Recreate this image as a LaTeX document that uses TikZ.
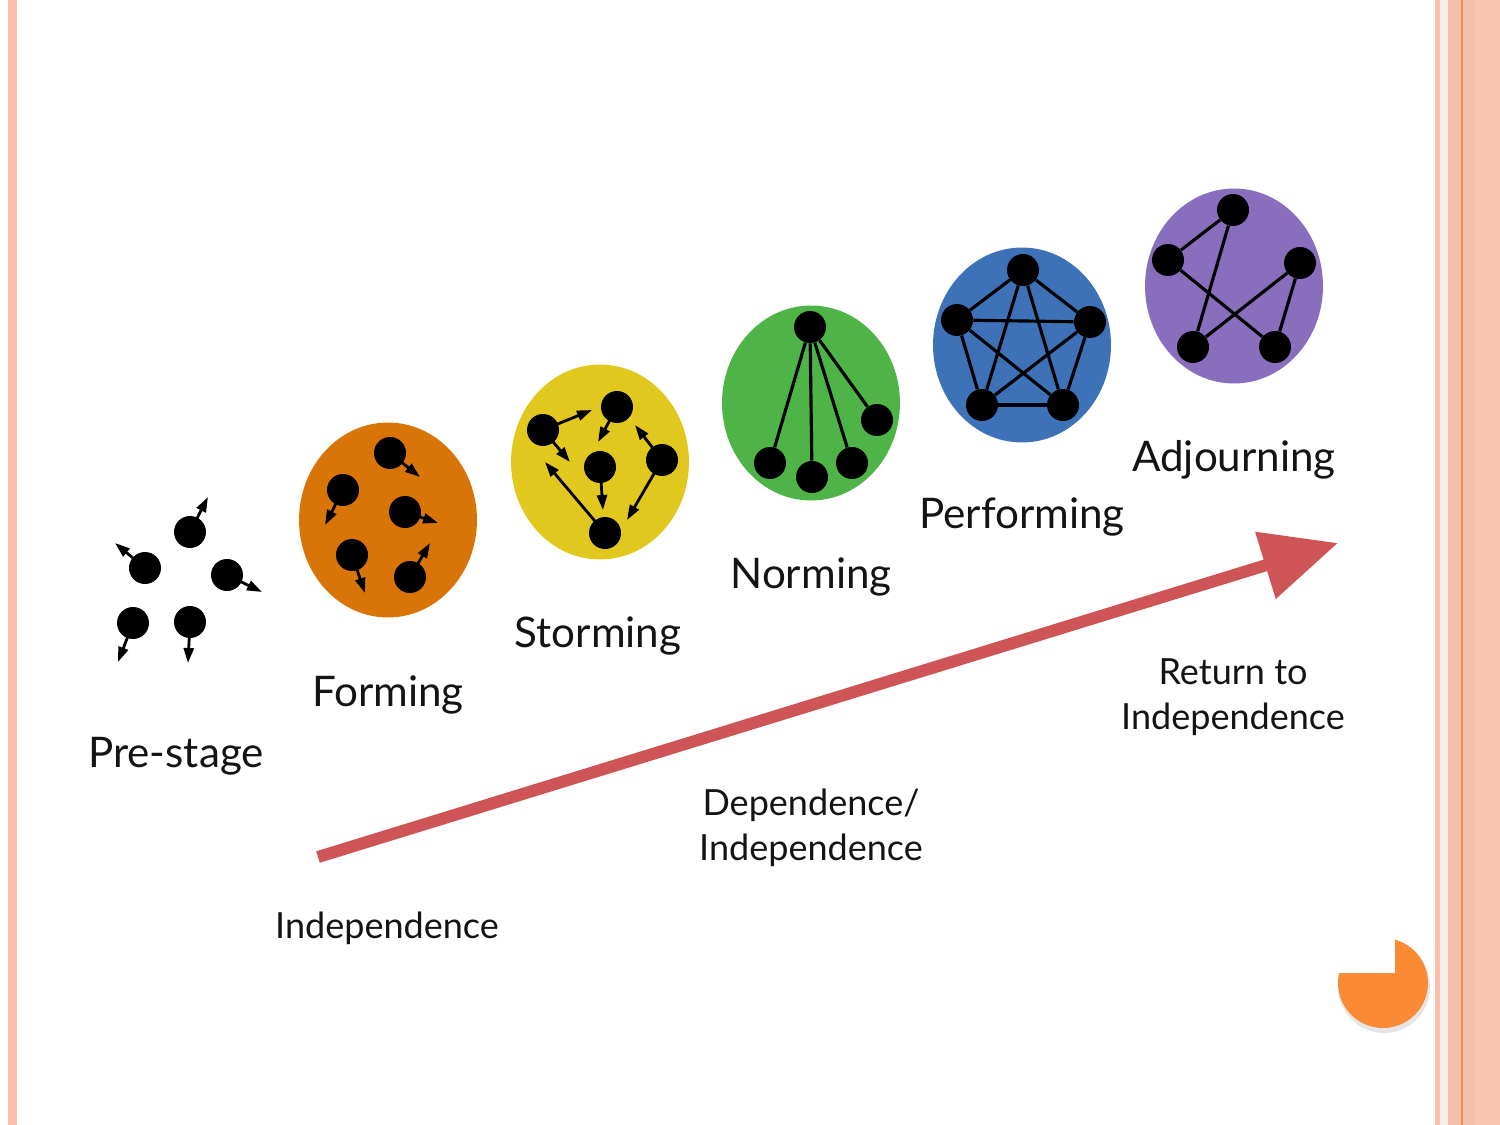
\documentclass[tikz,border=0pt]{standalone}
\usepackage{fontspec}
\setmainfont{Lato}
\usetikzlibrary{arrows.meta,shapes.geometric}
\definecolor{orangeC}{RGB}{217,117,6}
\definecolor{yellowC}{RGB}{224,200,30}
\definecolor{greenC}{RGB}{78,180,72}
\definecolor{blueC}{RGB}{62,114,184}
\definecolor{purpleC}{RGB}{137,110,190}
\definecolor{redC}{RGB}{207,84,88}
\definecolor{pieC}{RGB}{250,138,52}
\definecolor{stripeC}{RGB}{250,190,170}
\definecolor{stripeB}{RGB}{243,192,172}
\definecolor{stripeL}{RGB}{250,236,230}
\definecolor{stripeO}{RGB}{245,140,80}
\definecolor{txt}{RGB}{20,20,20}
\tikzset{
  stage/.style={ellipse, draw=none, minimum width=3.56cm, minimum height=3.9cm, inner sep=0pt},
  dot/.style={circle, fill=black, minimum size=0.64cm, inner sep=0pt},
  dart/.style={line width=1.6pt, -{Triangle[length=0.3cm,width=0.2cm]}, shorten <=-1pt},
  link/.style={line width=1.8pt},
  biglabel/.style={anchor=base, text=txt, font=\fontsize{24}{28}\selectfont, inner sep=0pt},
  smalllabel/.style={text=txt, font=\fontsize{20.5}{25.5}\selectfont, inner sep=0pt, align=center},
  bigarrow/.style={draw=redC, line width=0.24cm, -{Triangle[length=1.52cm,width=1.34cm]}}
}
\begin{document}
\begin{tikzpicture}[x=0.02cm,y=-0.02cm]
\useasboundingbox (0,0) rectangle (1500,1125);
\fill[white] (0,0) rectangle (1500,1125);
% borders
\fill[stripeC] (8,0) rectangle (17,1125);
\fill[stripeB] (1435,0) rectangle (1500,1125);
\fill[stripeL] (1440,0) rectangle (1448,1125);
\fill[stripeC] (1435,0) rectangle (1440,1125);
\fill[stripeO] (1461,0) rectangle (1463,1125);
\fill[stripeC!90!white] (1475,0) rectangle (1500,1125);

% stage circles
\node[stage, fill=orangeC] (forming) at (388,520) {};
\node[stage, fill=yellowC] (storming) at (600,462) {};
\node[stage, fill=greenC] (norming) at (811,403) {};
\node[stage, fill=blueC] (performing) at (1022,345) {};
\node[stage, fill=purpleC] (adjourning) at (1234,286) {};

% Pre-stage
\node[dot] (p1) at (190,532) {};
\node[dot] (p2) at (145,568) {};
\node[dot] (p3) at (227,575) {};
\node[dot] (p4) at (133,623) {};
\node[dot] (p5) at (190,622) {};
\coordinate (p1e) at (208,497);
\coordinate (p2e) at (115,543);
\coordinate (p3e) at (262,592);
\coordinate (p4e) at (118,662);
\coordinate (p5e) at (188,663);
\foreach \i in {1,...,5} \draw[dart] (p\i) -- (p\i e);

% Forming
\node[dot] (f1) at (390,453) {};
\node[dot] (f2) at (343,490) {};
\node[dot] (f3) at (405,512) {};
\node[dot] (f4) at (352,555) {};
\node[dot] (f5) at (410,577) {};
\coordinate (f1e) at (420,477);
\coordinate (f2e) at (325,525);
\coordinate (f3e) at (438,523);
\coordinate (f4e) at (365,593);
\coordinate (f5e) at (430,543);
\foreach \i in {1,...,5} \draw[dart] (f\i) -- (f\i e);

% Storming
\node[dot] (sA) at (543,430) {};
\node[dot] (sB) at (617,407) {};
\node[dot] (sC) at (600,467) {};
\node[dot] (sD) at (662,460) {};
\node[dot] (sE) at (605,533) {};
\coordinate (sA1) at (592,410);
\coordinate (sA2) at (570,462);
\coordinate (sB1) at (598,442);
\coordinate (sC1) at (603,510);
\coordinate (sD1) at (635,425);
\coordinate (sD2) at (627,520);
\coordinate (sE1) at (545,462);
\draw[dart] (sA) -- (sA1);
\draw[dart] (sA) -- (sA2);
\draw[dart] (sB) -- (sB1);
\draw[dart] (sC) -- (sC1);
\draw[dart] (sD) -- (sD1);
\draw[dart] (sD) -- (sD2);
\draw[dart] (sE) -- (sE1);

% Norming
\node[dot] (nT) at (810,327) {};
\node[dot] (nR) at (877,420) {};
\node[dot] (n1) at (770,463) {};
\node[dot] (n2) at (812,477) {};
\node[dot] (n3) at (852,463) {};
\draw[link] (nT) -- (nR);
\draw[link] (nT) -- (n1);
\draw[link] (nT) -- (n2);
\draw[link] (nT) -- (n3);

% Performing
\node[dot] (qT) at (1023,270) {};
\node[dot] (qL) at (957,320) {};
\node[dot] (qR) at (1090,322) {};
\node[dot] (qBL) at (982,405) {};
\node[dot] (qBR) at (1063,405) {};
\foreach \a/\b in {qT/qL,qT/qR,qT/qBL,qT/qBR,qL/qR,qL/qBL,qL/qBR,qR/qBL,qR/qBR,qBL/qBR}
  \draw[link] (\a) -- (\b);

% Adjourning
\node[dot] (aT) at (1233,210) {};
\node[dot] (aL) at (1168,260) {};
\node[dot] (aR) at (1300,263) {};
\node[dot] (aBL) at (1193,347) {};
\node[dot] (aBR) at (1275,347) {};
\draw[link] (aT) -- (aL);
\draw[link] (aT) -- (aBL);
\draw[link] (aL) -- (aBR);
\draw[link] (aR) -- (aBL);
\draw[link] (aR) -- (aBR);

% labels
\node[biglabel] (lpre) at (176,767) {Pre-stage};
\node[biglabel] (lform) at (388,706) {Forming};
\node[biglabel] (lstorm) at (598,647) {Storming};
\node[biglabel] (lnorm) at (811,588) {Norming};
\node[biglabel] (lperf) at (1022,528) {Performing};
\node[biglabel] (ladj) at (1234,471) {Adjourning};

% big arrow
\coordinate (arS) at (318,857);
\coordinate (arT) at (1338,543);
\draw[bigarrow] (arS) -- (arT);

\node[smalllabel, anchor=base] (lind) at (387,938) {Independence};
\node[smalllabel] (ldep) at (811,828) {Dependence/\\Independence};
\node[smalllabel] (lret) at (1233,697) {Return to\\Independence};

% corner pie
\fill[black!20, opacity=0.5] (1384,987) circle[radius=0.92cm];
\fill[pieC] (1383,983) circle[radius=0.9cm];
\fill[white] (1330,925) rectangle (1395,973);
\end{tikzpicture}
\end{document}
